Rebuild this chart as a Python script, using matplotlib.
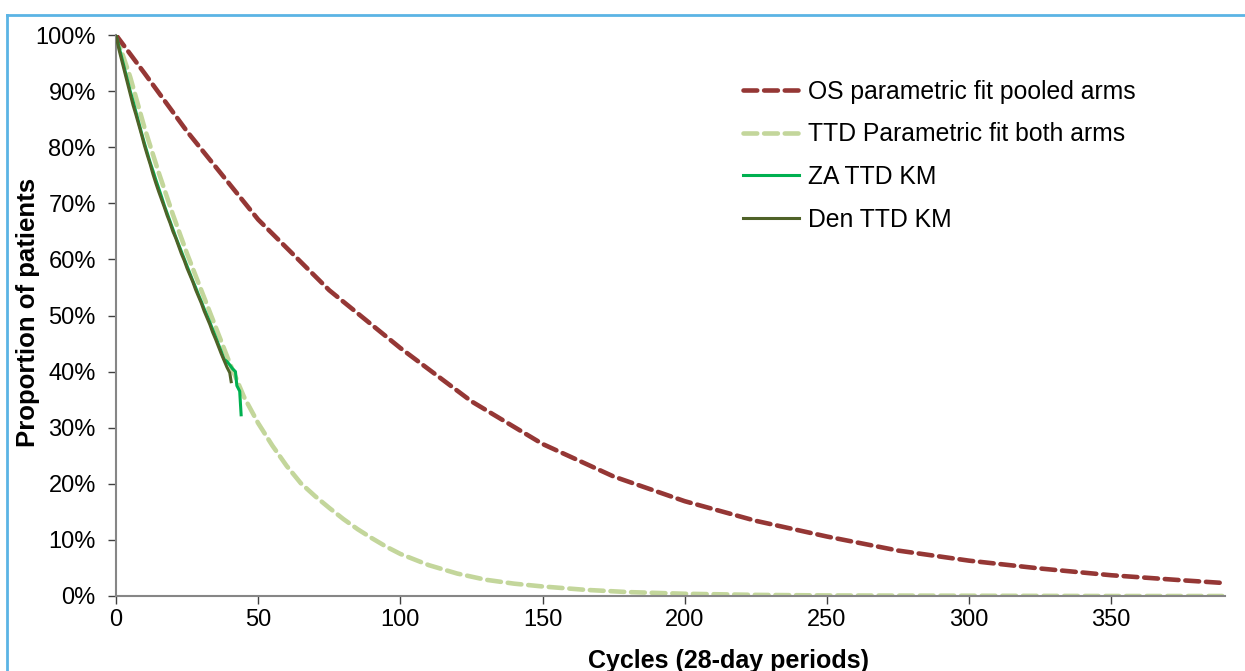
import matplotlib
matplotlib.use("Agg")
from matplotlib import pyplot as plt
from matplotlib.lines import Line2D
from matplotlib.ticker import PercentFormatter

plt.rcParams['font.family'] = ['Liberation Sans', 'DejaVu Sans']

# OS parametric fit (pooled arms)
os_x = [0, 10, 25, 50, 75, 100, 125, 150, 175, 200, 225, 250, 275, 300, 325, 350, 375, 390]
os_y = [100, 93.2, 82.8, 67.1, 54.5, 44.2, 34.7, 27.1, 21.3, 16.9, 13.4, 10.6, 8.1, 6.3, 4.9, 3.7, 2.8, 2.3]

# TTD parametric fit (both arms)
ttd_x = [0, 5, 10, 15, 20, 25, 30, 35, 40, 45, 50, 55, 60, 65, 70, 75, 80, 85, 90, 95,
         100, 110, 120, 130, 140, 150, 165, 180, 200, 225, 250, 300, 350, 390]
ttd_y = [100, 92.5, 83.5, 75.5, 68, 61, 54.5, 48, 41.5, 35.5, 30.8, 26.8, 23.2, 20.1, 17.8,
         15.7, 13.7, 11.9, 10.3, 8.8, 7.5, 5.5, 4.0, 2.9, 2.2, 1.7, 1.1, 0.7, 0.4, 0.2, 0.1,
         0.05, 0, 0]

# KM curves
za_t = [0, 1, 2, 3, 4, 5, 6, 7, 8, 9, 10, 11, 12, 13, 14, 15, 16, 17, 18, 19, 20, 21, 22,
        23, 24, 25, 26, 27, 28, 29, 30, 31, 32, 33, 34, 35, 36, 37, 38, 39, 40, 41, 42,
        42.5, 43.5, 44]
za_s = [100, 98, 96, 94, 92, 90, 88.2, 86.3, 84.4, 82.5, 80.7, 79, 77.3, 75.8, 74.2, 72.7,
        71.2, 69.6, 68.2, 66.8, 65.4, 64.0, 62.7, 61.4, 60.1, 58.8, 57.5, 56.2, 55.0, 53.7,
        52.5, 51.2, 50.0, 48.8, 47.5, 46.2, 44.9, 43.6, 42.2, 41.8, 41.2, 40.5, 40.0,
        37.5, 36.5, 32.3]

den_t = [0, 1, 2, 3, 4, 5, 6, 7, 8, 9, 10, 11, 12, 13, 14, 15, 16, 17, 18, 19, 20, 21, 22,
         23, 24, 25, 26, 27, 28, 29, 30, 31, 32, 33, 34, 35, 36, 37, 38, 39, 40, 40.5]
den_s = [100, 97.5, 95.5, 93.5, 91.5, 89.5, 87.5, 85.8, 84, 82.2, 80.3, 78.6, 77, 75.2, 73.6,
         72.1, 70.7, 69.3, 67.8, 66.5, 65, 63.8, 62.4, 61, 59.8, 58.4, 57.2, 56, 54.6, 53.4,
         52.2, 50.8, 49.6, 48.4, 47, 45.8, 44.5, 43.2, 42, 40.8, 39.8, 38.2]

labels = ["OS parametric fit pooled arms", "TTD Parametric fit both arms",
          "ZA TTD KM", "Den TTD KM"]

fig = plt.figure(figsize=(12.45, 6.71), dpi=100)
ax = fig.add_axes([116 / 1245, 1 - 596 / 671, (1225 - 116) / 1245, (596 - 35) / 671])

ax.plot(os_x, [v / 100 for v in os_y], color="#953735", lw=3.3, dashes=(3.0, 1.5),
        dash_capstyle="round", label=labels[0], zorder=2)
ax.plot(ttd_x, [v / 100 for v in ttd_y], color="#C3D69B", lw=3.3, dashes=(3.0, 1.5),
        dash_capstyle="round", label=labels[1], zorder=1)
ax.plot(za_t, [v / 100 for v in za_s], color="#00B050", lw=2.2, label=labels[2], zorder=3)
ax.plot(den_t, [v / 100 for v in den_s], color="#4F6228", lw=2.2, label=labels[3], zorder=4)

ax.set_xlim(0, 390)
ax.set_ylim(0, 1)
ax.set_xticks(range(0, 400, 50))
ax.set_yticks([i / 10 for i in range(11)])
ax.yaxis.set_major_formatter(PercentFormatter(1.0, decimals=0))

for s in ["top", "right"]:
    ax.spines[s].set_visible(False)
for s in ["left", "bottom"]:
    ax.spines[s].set_color("#868686")
    ax.spines[s].set_linewidth(1.5)
ax.tick_params(axis="both", direction="out", length=5.5, width=1, color="#404040",
               labelsize=17, labelcolor="#000000")
ax.tick_params(axis="y", pad=9)
ax.tick_params(axis="x", pad=4)

fig.text(28 / 1245, 1 - 312 / 671, "Proportion of patients", rotation=90, ha="center",
         va="center", fontsize=18.5, fontweight="bold")
fig.text(729 / 1245, 1 - 661 / 671, "Cycles (28-day periods)", ha="center", va="center",
         fontsize=18, fontweight="bold")

leg = ax.legend(loc="upper left", bbox_to_anchor=(733 / 1245, 1 - 70 / 671),
                bbox_transform=fig.transFigure, frameon=False, fontsize=17.8,
                handlelength=2.25, handletextpad=0.4, labelspacing=0.75, borderaxespad=0)

# light blue frame round the chart
fig.add_artist(Line2D([7 / 1245, 7 / 1245], [0, 1 - 15 / 671], transform=fig.transFigure,
                      color="#5BB4E5", lw=2))
fig.add_artist(Line2D([7 / 1245, 1], [1 - 15 / 671, 1 - 15 / 671], transform=fig.transFigure,
                      color="#5BB4E5", lw=2))

fig.savefig("out.png", dpi=100)
